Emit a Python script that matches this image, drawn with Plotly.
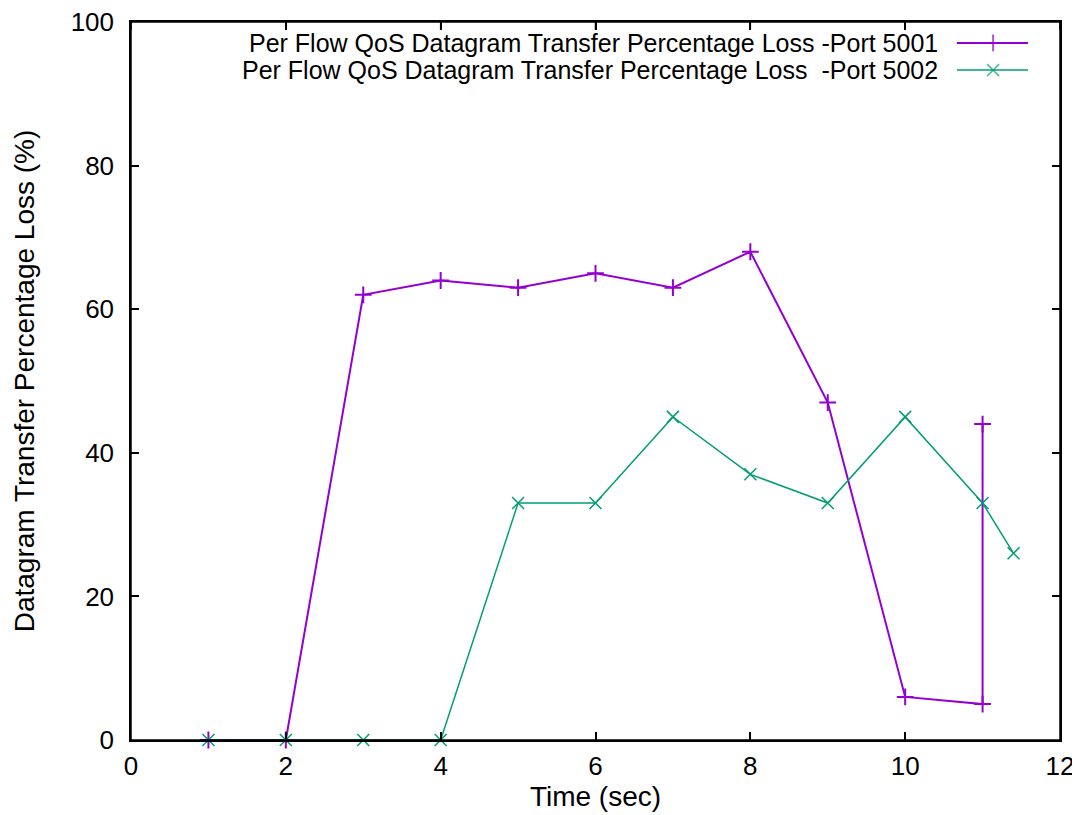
import plotly.graph_objects as go

# ---- data ----
time_5001 = [1, 2, 3, 4, 5, 6, 7, 8, 9, 10, 11, 11]
loss_5001 = [0, 0, 62, 64, 63, 65, 63, 68, 47, 6, 5, 44]
time_5002 = [1, 2, 3, 4, 5, 6, 7, 8, 9, 10, 11, 11.4]
loss_5002 = [0, 0, 0, 0, 33, 33, 45, 37, 33, 45, 33, 26]

name_5001 = "Per Flow QoS Datagram Transfer Percentage Loss -Port 5001"
name_5002 = "Per Flow QoS Datagram Transfer Percentage Loss  -Port 5002"
x_ticks = [0, 2, 4, 6, 8, 10, 12]
y_ticks = [0, 20, 40, 60, 80, 100]
x_range = [0, 12]

PURPLE = "#9400d3"
GREEN = "#009e73"
FONT = "Liberation Sans, Arial, sans-serif"

fig = go.Figure()
fig.add_trace(go.Scatter(
    x=time_5001, y=loss_5001, mode="lines+markers", name=name_5001,
    line=dict(color=PURPLE, width=2),
    marker=dict(symbol="cross-thin-open", size=12, color=PURPLE, line=dict(color=PURPLE, width=2)),
    cliponaxis=False, showlegend=False))
fig.add_trace(go.Scatter(
    x=time_5002, y=loss_5002, mode="lines+markers", name=name_5002,
    line=dict(color=GREEN, width=1.5),
    marker=dict(symbol="x-thin-open", size=12, color=GREEN, line=dict(color=GREEN, width=1.5)),
    cliponaxis=False, showlegend=False))

# legend key drawn on an overlay axis in 0..1 units (gnuplot style: text left of sample)
key_x = [0.889, 0.928, 0.9655]
key_rows = [(name_5001, PURPLE, "cross-thin-open", 2, 0.9708),
            (name_5002, GREEN, "x-thin-open", 1.5, 0.9330)]
for (nm, col, sym, w, ky) in key_rows:
    fig.add_trace(go.Scatter(
        x=key_x, y=[ky, ky, ky], mode="lines+markers",
        line=dict(color=col, width=w),
        marker=dict(symbol=sym, size=[0, 12, 0], color=col, line=dict(color=col, width=w)),
        xaxis="x2", yaxis="y2", showlegend=False, hoverinfo="skip"))
    fig.add_annotation(x=0.871, y=ky, xref="x2", yref="y2", text=nm, showarrow=False,
                       xanchor="right", yanchor="middle",
                       font=dict(family=FONT, size=25, color="black"))

axis_common = dict(showline=True, linecolor="black", linewidth=1.5, mirror="ticks",
                   ticks="inside", ticklen=8, tickwidth=1.5, tickcolor="black",
                   showgrid=False, zeroline=False, automargin=False,
                   ticklabeloverflow="allow",
                   tickfont=dict(family=FONT, size=26, color="black"))

# frame plus mirrored top ticks (gnuplot border style), in paper units
frame_shapes = [dict(type="rect", xref="paper", yref="paper", x0=0, x1=1, y0=0, y1=1,
                     line=dict(color="black", width=1.5), layer="above")]
for t in x_ticks:
    fx = (t - x_range[0]) / (x_range[1] - x_range[0])
    frame_shapes.append(dict(type="line", xref="paper", yref="paper", x0=fx, x1=fx,
                             y0=1, y1=1 - 8 / 718, line=dict(color="black", width=1.5),
                             layer="above"))

# page body adds an 8px offset, so the figure is 8px smaller and margins shifted
fig.update_layout(
    width=1072, height=807,
    margin=dict(l=123, r=20, t=14, b=75),
    paper_bgcolor="white", plot_bgcolor="white",
    font=dict(family=FONT, color="black"),
    xaxis=dict(range=x_range, tickvals=x_ticks, ticklabelstandoff=2,
               title=dict(text="Time (sec)", font=dict(family=FONT, size=28), standoff=4),
               **axis_common),
    yaxis=dict(range=[0, 100], tickvals=y_ticks, ticklabelstandoff=10,
               title=dict(text="Datagram Transfer Percentage Loss (%)",
                          font=dict(family=FONT, size=28), standoff=28),
               **axis_common),
    xaxis2=dict(range=[0, 1], overlaying="x", visible=False, fixedrange=True),
    yaxis2=dict(range=[0, 1], overlaying="y", visible=False, fixedrange=True),
    shapes=frame_shapes,
)

fig.write_html("out.html")
